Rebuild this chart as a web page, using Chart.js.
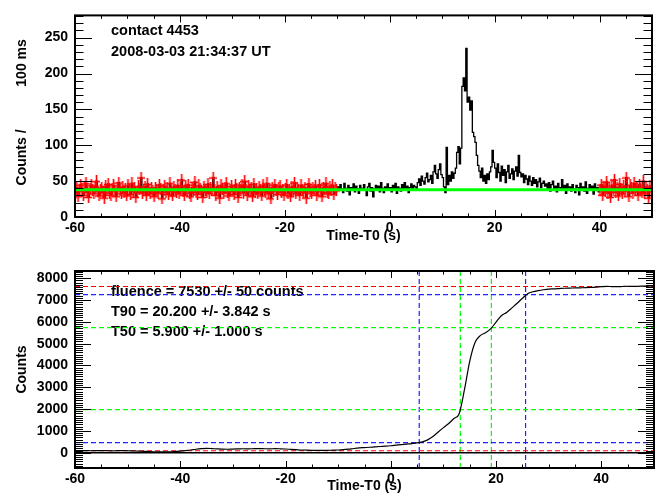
<!DOCTYPE html>
<html>
<head>
<meta charset="utf-8">
<title>contact 4453</title>
<script src="https://cdn.jsdelivr.net/npm/chart.js@4.4.1/dist/chart.umd.min.js"></script>
<style>
  body { margin: 0; background: #fff; }
  canvas { display: block; }
</style>
</head>
<body>
<canvas id="rate" width="658" height="250"></canvas>
<canvas id="cumul" width="658" height="250"></canvas>
<script>
const binStart = -60;
const binWidth = 0.25;

// background interval before the burst, -60 .. -10 s (red)
const bgBefore = [
  33, 41, 29, 38, 45, 36, 31, 40, 47, 35, 28, 39, 44, 37, 33, 42, 50, 36, 30, 38,
  41, 35, 27, 43, 38, 46, 34, 31, 39, 44, 36, 29, 40, 48, 37, 33, 42, 35, 39, 30,
  44, 38, 32, 47, 36, 41, 28, 35, 43, 39, 55, 34, 37, 42, 31, 46, 38, 33, 40, 36,
  29, 41, 37, 34, 45, 39, 26, 38, 43, 35, 40, 32, 47, 36, 30, 42, 38, 35, 44, 33,
  40, 52, 36, 31, 43, 38, 45, 34, 29, 41, 37, 49, 35, 32, 44, 39, 36, 28, 42, 38,
  35, 46, 33, 40, 37, 55, 38, 31, 42, 36, 27, 44, 39, 34, 41, 47, 35, 30, 38, 43,
  36, 32, 45, 39, 28, 41, 37, 44, 34, 50, 38, 31, 43, 36, 40, 29, 46, 35, 39, 33,
  42, 37, 30, 44, 38, 35, 47, 33, 39, 26, 41, 36, 45, 38, 32, 40, 43, 35, 37, 31,
  39, 45, 34, 38, 29, 42, 36, 48, 33, 40, 37, 31, 44, 38, 35, 41, 27, 39, 46, 36,
  34, 40, 37, 43, 31, 38, 45, 36, 29, 41, 39, 47, 35, 33, 42, 38, 44, 32, 40, 37
];
// -10 .. 40 s (black only)
const burst = [
  42, 37, 45, 39, 34, 47, 40, 36, 44, 31, 41, 38, 46, 35, 43, 39, 33, 44, 40, 37,
  45, 38, 30, 42, 47, 36, 41, 28, 39, 44, 37, 43, 35, 48, 40, 34, 42, 38, 46, 39,
  41, 35, 44, 38, 47, 33, 42, 40, 36, 45, 39, 48, 37, 43, 34, 41, 46, 39, 44, 42,
  40, 48, 53, 44, 57, 50, 46, 55, 61, 49, 52, 58, 47, 63, 72, 60, 54, 66, 74, 59,
  55, 42, 34, 97, 45, 58, 50, 63, 54, 61, 68, 90, 98, 74, 96, 182, 194, 176, 235, 160,
  167, 149, 162, 118, 112, 104, 86, 72, 64, 55, 68, 50, 58, 47, 60, 52, 63, 70, 93, 76,
  68, 55, 74, 62, 50, 71, 58, 66, 48, 63, 72, 54, 60, 67, 52, 64, 70, 57, 86, 62,
  56, 60, 48, 58, 53, 45, 57, 50, 44, 55, 47, 52, 42, 49, 54, 41, 47, 50, 43, 46,
  40, 48, 36, 45, 50, 39, 43, 35, 47, 41, 38, 52, 37, 44, 33, 46, 40, 42, 36, 45,
  39, 34, 44, 41, 31, 47, 38, 42, 36, 49, 33, 40, 45, 37, 43, 32, 46, 39, 41, 35
];
// background interval after the burst, 40 .. 50 s (red)
const bgAfter = [
  38, 45, 31, 42, 36, 49, 34, 40, 28, 44, 37, 52, 35, 41, 30, 46, 39, 33, 43, 36,
  55, 38, 29, 44, 40, 34, 47, 37, 42, 31, 45, 39, 35, 50, 33, 41, 38, 27, 43, 36
];
const bgFit = 38;

// cumulative background-subtracted counts, 1 s steps from -60 s
const cumStart = -60;
const cumCounts = [
  95, 92, 98, 90, 96, 100, 94, 88, 92, 97,
  90, 82, 75, 62, 50, 42, 38, 45, 40, 55,
  70, 95, 125, 160, 185, 200, 190, 175, 165, 160,
  168, 175, 182, 178, 185, 190, 183, 178, 186, 180,
  170, 155, 140, 125, 115, 110, 112, 105, 110, 118,
  125, 140, 165, 195, 220, 235, 250, 268, 285, 300,
  320, 345, 370, 395, 420, 450, 500, 590, 740, 950,
  1150, 1340, 1570, 1800, 2900, 4200, 5050, 5370, 5500, 5690,
  5990, 6280, 6430, 6640, 6850, 7080, 7290, 7380, 7430, 7470,
  7500, 7510, 7525, 7540, 7545, 7555, 7560, 7565, 7575, 7590,
  7610, 7625, 7615, 7610, 7620, 7630, 7625, 7630, 7635, 7640, 7645
];

const fluenceLevels = [90, 7620];
const t90Levels = [466, 7243];
const t50Levels = [1972, 5737];
const t90Times = [5.4, 25.6];
const t50Times = [13.2, 19.1];

const timeTicks = [-60, -40, -20, 0, 20, 40];
const rateTicks = [0, 50, 100, 150, 200, 250];
const cumTicks = [0, 1000, 2000, 3000, 4000, 5000, 6000, 7000, 8000];

const X_MIN = -60, X_MAX = 50;
const RATE_MAX = 281;
const CUM_MIN = -700, CUM_MAX = 8330;

const FONT = '"Liberation Sans", Arial, sans-serif';
const axisFont = { family: FONT, size: 14, weight: 'bold' };

const toPoints = (arr, start, step) => arr.map((v, i) => ({ x: start + i * step, y: v }));
const hLine = (v) => [{ x: X_MIN, y: v }, { x: X_MAX, y: v }];
const vLine = (t) => [{ x: t, y: CUM_MIN }, { x: t, y: CUM_MAX }];

// ROOT style error cross, with a soft edge like the original raster
function crossMarker() {
  const c = document.createElement('canvas');
  c.width = 8;
  c.height = 12;
  const g = c.getContext('2d');
  g.fillStyle = 'rgba(255,0,0,0.3)';
  g.fillRect(0, 5, 8, 3);
  g.fillRect(3, 0, 3, 12);
  g.fillStyle = '#ff0000';
  g.fillRect(0, 6, 8, 1);
  g.fillRect(4, 0, 1, 12);
  return c;
}

// frame with inward ticks on all four sides, plus free text
const rootFrame = {
  id: 'rootFrame',
  beforeDatasetsDraw(chart, args, opts) {
    const ctx = chart.ctx;
    ctx.save();
    ctx.fillStyle = '#000';
    ctx.font = 'bold 14.5px ' + FONT;
    ctx.textBaseline = 'middle';
    (opts.notes || []).forEach(n => ctx.fillText(n.text, n.x, n.y));
    ctx.restore();
  },
  afterDraw(chart, args, opts) {
    const { ctx, chartArea: a, scales: { x, y } } = chart;
    if (!opts.x) return;
    ctx.save();
    ctx.strokeStyle = '#000';
    ctx.lineWidth = 1;
    ctx.beginPath();
    const xs = opts.x, ys = opts.y;
    for (let i = 0; ; i++) {
      const v = xs.from + i * xs.minor;
      if (v > x.max + 1e-9) break;
      const len = Math.abs(v % xs.major) < 1e-9 ? xs.majorLen : xs.minorLen;
      const px = Math.round(x.getPixelForValue(v)) + 0.5;
      ctx.moveTo(px, a.bottom); ctx.lineTo(px, a.bottom - len);
      ctx.moveTo(px, a.top); ctx.lineTo(px, a.top + len);
    }
    for (let i = 0; ; i++) {
      const v = ys.from + i * ys.minor;
      if (v > y.max + 1e-9) break;
      const len = Math.abs(v % ys.major) < 1e-9 ? ys.majorLen : ys.minorLen;
      const py = Math.round(y.getPixelForValue(v)) + 0.5;
      ctx.moveTo(a.left, py); ctx.lineTo(a.left + len, py);
      ctx.moveTo(a.right, py); ctx.lineTo(a.right - len, py);
    }
    ctx.stroke();
    ctx.lineWidth = 2;
    ctx.strokeRect(a.left, a.top, a.right - a.left, a.bottom - a.top);
    ctx.restore();
  }
};
Chart.register(rootFrame);

function xScale(height) {
  return {
    type: 'linear',
    min: X_MIN,
    max: X_MAX,
    afterBuildTicks: s => { s.ticks = timeTicks.map(v => ({ value: v })); },
    afterFit: s => { s.height = height; },
    grid: { display: false, drawTicks: false },
    border: { display: false },
    ticks: { font: axisFont, color: '#000', padding: 3, maxRotation: 0, autoSkip: false, callback: v => String(v) },
    title: { display: true, text: 'Time-T0 (s)', font: axisFont, color: '#000', padding: { top: 0, bottom: 5 } }
  };
}

function yScale(min, max, ticks, title) {
  return {
    type: 'linear',
    min: min,
    max: max,
    afterBuildTicks: s => { s.ticks = ticks.map(v => ({ value: v })); },
    afterFit: s => { s.width = 75; },
    grid: { display: false, drawTicks: false },
    border: { display: false },
    ticks: { font: axisFont, color: '#000', padding: 7, autoSkip: false, callback: v => String(v) },
    title: { display: true, text: title, font: axisFont, color: '#000', padding: { top: 14, bottom: 0 } }
  };
}

const common = {
  responsive: false,
  animation: false,
  events: [],
  parsing: false,
  normalized: true
};

// light curve
new Chart(document.getElementById('rate'), {
  type: 'line',
  data: {
    datasets: [
      {
        label: 'fit',
        data: hLine(bgFit),
        borderColor: '#00ff00',
        borderWidth: 3,
        pointRadius: 0,
        order: 0
      },
      {
        label: 'background',
        data: toPoints(bgBefore, binStart, binWidth)
          .concat(toPoints(bgAfter, binStart + (bgBefore.length + burst.length) * binWidth, binWidth)),
        showLine: false,
        pointStyle: crossMarker(),
        pointRadius: 5,
        order: 1
      },
      {
        label: 'counts',
        data: toPoints(bgBefore.concat(burst, bgAfter), binStart, binWidth),
        borderColor: '#000',
        borderWidth: 1.3,
        pointRadius: 0,
        stepped: true,
        order: 2
      }
    ]
  },
  options: {
    ...common,
    layout: { padding: { left: 0, right: 4, top: 9, bottom: 0 } },
    plugins: {
      legend: { display: false },
      tooltip: { enabled: false },
      rootFrame: {
        x: { from: -60, minor: 5, major: 20, minorLen: 3.5, majorLen: 7 },
        y: { from: 0, minor: 10, major: 50, minorLen: 8.5, majorLen: 17 },
        notes: [
          { text: 'contact 4453', x: 111, y: 31 },
          { text: '2008-03-03 21:34:37 UT', x: 111, y: 52 }
        ]
      }
    },
    scales: {
      x: xScale(33),
      y: yScale(0, RATE_MAX, rateTicks, '  Counts /           100 ms')
    }
  }
});

// cumulative counts
const dash = [5, 3];
const refSets = [];
fluenceLevels.forEach(v => refSets.push({ data: hLine(v), borderColor: '#ff0000' }));
t90Levels.forEach(v => refSets.push({ data: hLine(v), borderColor: '#2222ff' }));
t50Levels.forEach(v => refSets.push({ data: hLine(v), borderColor: '#00ff00' }));
t90Times.forEach(t => refSets.push({ data: vLine(t), borderColor: '#2222ff' }));
t50Times.forEach(t => refSets.push({ data: vLine(t), borderColor: '#00ff00' }));

new Chart(document.getElementById('cumul'), {
  type: 'line',
  data: {
    datasets: [
      {
        label: 'cumulative',
        data: toPoints(cumCounts, cumStart, 1),
        borderColor: '#000',
        borderWidth: 1.2,
        pointRadius: 0,
        cubicInterpolationMode: 'monotone',
        order: 0
      },
      {
        label: 'zero',
        data: hLine(0),
        borderColor: '#000',
        borderWidth: 1.5,
        pointRadius: 0,
        order: 2
      }
    ].concat(refSets.map(d => ({
      ...d,
      borderWidth: 1.2,
      borderDash: dash,
      pointRadius: 0,
      order: 1
    })))
  },
  options: {
    ...common,
    layout: { padding: { left: 0, right: 4, top: 21, bottom: 0 } },
    plugins: {
      legend: { display: false },
      tooltip: { enabled: false },
      rootFrame: {
        x: { from: -60, minor: 5, major: 20, minorLen: 3.5, majorLen: 7 },
        y: { from: -700, minor: 100, major: 1000, minorLen: 8, majorLen: 16 },
        notes: [
          { text: 'fluence = 7530 +/- 50 counts', x: 111, y: 42 },
          { text: 'T90 = 20.200 +/- 3.842 s', x: 111, y: 62 },
          { text: 'T50 = 5.900 +/- 1.000 s', x: 111, y: 82 }
        ]
      }
    },
    scales: {
      x: xScale(32),
      y: yScale(CUM_MIN, CUM_MAX, cumTicks, 'Counts')
    }
  }
});
</script>
</body>
</html>
